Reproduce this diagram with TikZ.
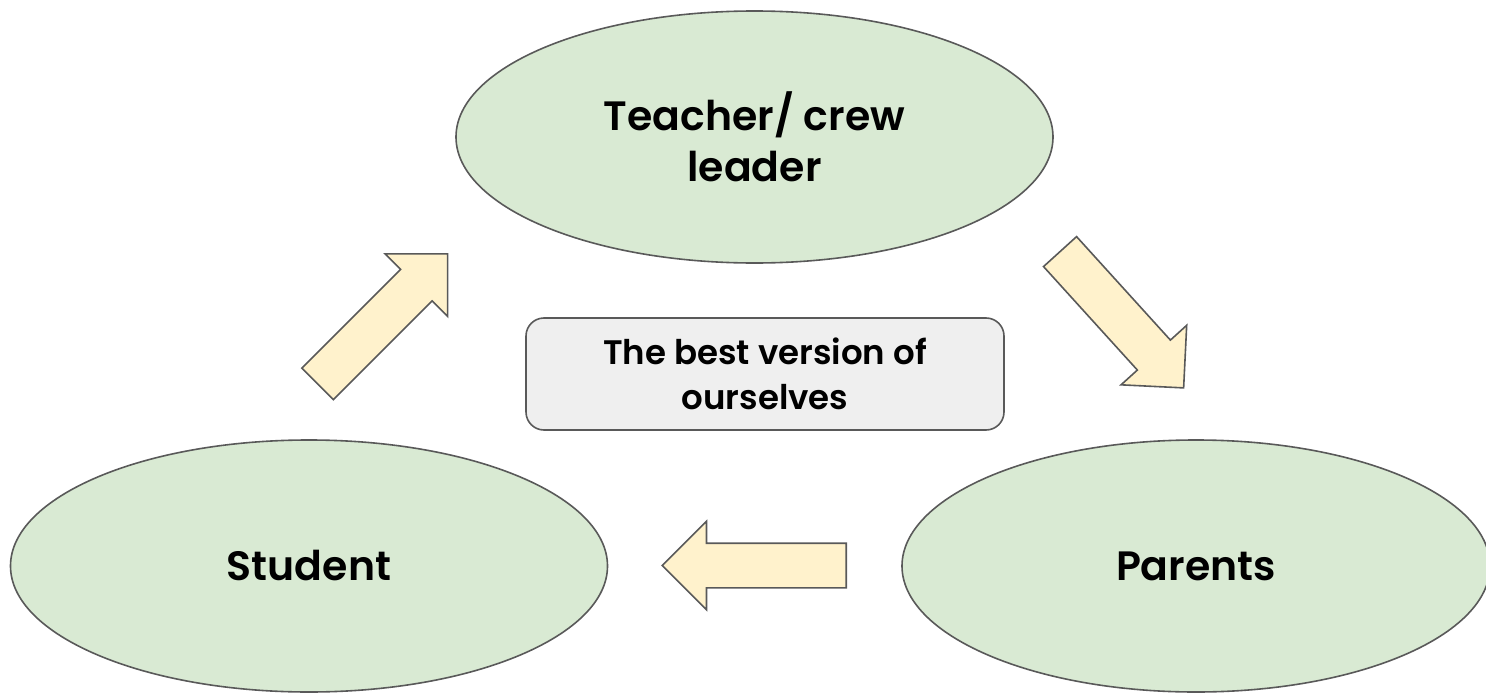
\documentclass[tikz,border=0pt]{standalone}
\usepackage{fontspec}
\setmainfont{Poppins}[BoldFont={Poppins SemiBold}]
\usetikzlibrary{shapes.geometric,shapes.arrows}
\definecolor{rolefill}{HTML}{D9EAD3}
\definecolor{arrowfill}{HTML}{FFF2CC}
\definecolor{goalfill}{HTML}{EFEFEF}
\definecolor{edge}{HTML}{595959}
\begin{document}
\begin{tikzpicture}[x=1pt, y=-1pt,
    role/.style={ellipse, draw=edge, line width=1.6pt, fill=rolefill, minimum width=597pt, minimum height=252pt, inner sep=0pt, align=center, font=\fontsize{41}{51}\selectfont\bfseries},
    goal/.style={rectangle, rounded corners=18pt, draw=edge, line width=1.6pt, fill=goalfill, minimum width=478pt, minimum height=112pt, align=center, font=\fontsize{34}{45}\selectfont\bfseries},
    flow/.style={single arrow, draw=edge, line width=1.6pt, fill=arrowfill, inner xsep=0pt, inner ysep=21.5pt, minimum width=0pt, minimum height=184pt, single arrow head extend=22pt, single arrow tip angle=90, anchor=tail}]
    \useasboundingbox (0,0) rectangle (1486,693);

    \node[role] (teacher) at (754.5,137) {Teacher/ crew\\leader};
    \node[role] (student) at (309,566) {Student};
    \node[role, minimum width=588pt] (parents) at (1196,566) {Parents};

    \node[goal] (best) at (765,374) {The best version of\\ourselves};

    % block arrows round the cycle
    \node[flow, rotate=45] (up) at (317,384.5) {};
    \node[flow, rotate=-47.8] (down) at (1059.5,251) {};
    \node[flow, rotate=180] (back) at (847,565.5) {};
  \end{tikzpicture}
\end{document}
